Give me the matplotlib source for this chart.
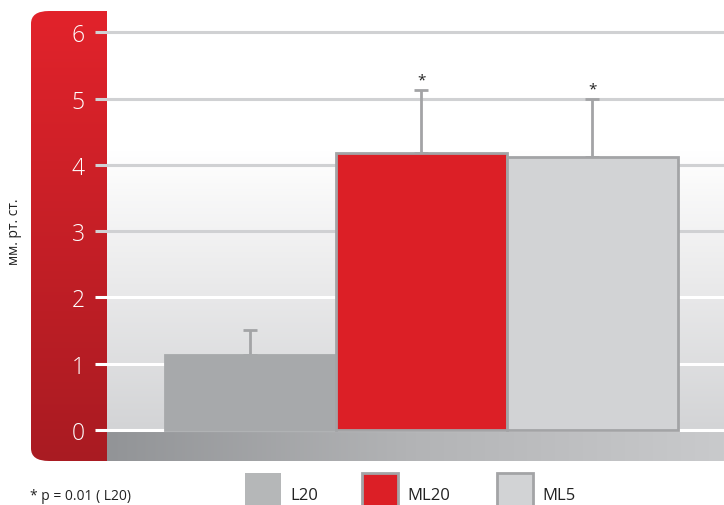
import numpy as np
import matplotlib.pyplot as plt
from matplotlib.patches import FancyBboxPatch, Rectangle
from matplotlib.colors import LinearSegmentedColormap

plt.rcParams['font.family'] = ['Open Sans', 'DejaVu Sans']

# Data
groups = ['L20', 'ML20', 'ML5']
means = [1.13, 4.18, 4.12]
sd = [0.38, 0.95, 0.87]
signif = ['', '*', '*']
yticks = [0, 1, 2, 3, 4, 5, 6]

bar_colors = ['#a7a9ab', '#dc1f26', '#d2d3d5']
edge_colors = ['#a7a9ab', '#a3a4a6', '#a3a4a6']
legend_colors = ['#b5b7b8', '#dc1f26', '#d2d3d5']

W, H = 724, 506
fig = plt.figure(figsize=(W / 100, H / 100), dpi=100)

def fx(px):
    return px / W

def fy(py):
    return 1 - py / H

# red panel with vertical gradient (rounded corners)
panel = FancyBboxPatch((fx(31), fy(462)), fx(100) - fx(31) + fx(40), fy(12) - fy(462),
                       boxstyle='round,pad=0,rounding_size=0.025',
                       transform=fig.transFigure, facecolor='none', edgecolor='none')
fig.add_artist(panel)
red_cmap = LinearSegmentedColormap.from_list('red', ['#a91b22', '#e2232b'])
bg_ax = fig.add_axes([0, 0, 1, 1], zorder=0)
bg_ax.set_axis_off()
bg_ax.set_xlim(0, 1)
bg_ax.set_ylim(0, 1)
grad = np.linspace(0, 1, 256).reshape(-1, 1)
im = bg_ax.imshow(grad, cmap=red_cmap, origin='lower', aspect='auto',
                  extent=[fx(31), fx(150), fy(462), fy(12)])
im.set_clip_path(panel)

# main axes
ax = fig.add_axes([fx(107), fy(462), 1 - fx(107), fy(12) - fy(462)], zorder=1)
ymin, ymax = -0.468, 6.32
x = np.arange(len(groups))
xlim = (-0.839, 2.769)
ax.set_xlim(*xlim)
ax.set_ylim(ymin, ymax)
for s in ax.spines.values():
    s.set_visible(False)
ax.set_xticks([])
ax.set_yticks(yticks)
ax.tick_params(axis='y', length=0, pad=16, labelcolor='white', labelsize=16.5)
for lab in ax.get_yticklabels():
    lab.set_fontweight('light')

# plot background gradient
bg_cmap = LinearSegmentedColormap.from_list('bg', ['#d3d4d6', '#e9e9ea', '#ffffff', '#ffffff'])
ax.imshow(grad, cmap=bg_cmap, origin='lower', aspect='auto',
          extent=[xlim[0], xlim[1], 0, ymax], zorder=0)
# bottom band
band_cmap = LinearSegmentedColormap.from_list('band', ['#929497', '#b3b4b6', '#c9cacc'])
ax.imshow(grad.T, cmap=band_cmap, origin='lower', aspect='auto',
          extent=[xlim[0], xlim[1], ymin, -0.03], zorder=0.5)

# gridlines, extending into the red panel as tick marks
for t in yticks:
    c = '#d0d1d3' if t >= 3 else '#ffffff'
    ax.plot([-12 / 617, 1], [t, t], transform=ax.get_yaxis_transform(),
            color=c, lw=2.2, clip_on=False, zorder=1, solid_capstyle='butt')

# bars
ax.bar(x, means, width=1.0, color=bar_colors, edgecolor=edge_colors,
       linewidth=2, zorder=3)
ax.errorbar(x, means, yerr=[np.zeros(len(sd)), sd], fmt='none',
            ecolor='#a3a4a6', elinewidth=2, capsize=5, capthick=2, zorder=2)
for xi, m, s, lab in zip(x, means, sd, signif):
    if lab:
        ax.text(xi, m + s + 0.04, lab, ha='center', va='bottom', fontsize=11, color='#222222')

# y label
fig.text(fx(14), fy(232), 'мм. рт. ст.', rotation=90, ha='center', va='center',
         fontsize=10, color='#222222')

# footnote
fig.text(fx(30), fy(497), '* p = 0.01 ( L20)', ha='left', va='center',
         fontsize=10, color='#222222')

# legend
leg_x = [245, 362, 497]
for lx, g, c, ec in zip(leg_x, groups, legend_colors, ['none', '#a3a4a6', '#a3a4a6']):
    fig.add_artist(Rectangle((fx(lx), fy(508)), fx(36), fy(474) - fy(508),
                             transform=fig.transFigure, facecolor=c,
                             edgecolor=ec, linewidth=2 if ec != 'none' else 0))
    fig.text(fx(lx + 45), fy(496), g, ha='left', va='center', fontsize=12, color='#222222')

fig.savefig('out.png', dpi=100)
